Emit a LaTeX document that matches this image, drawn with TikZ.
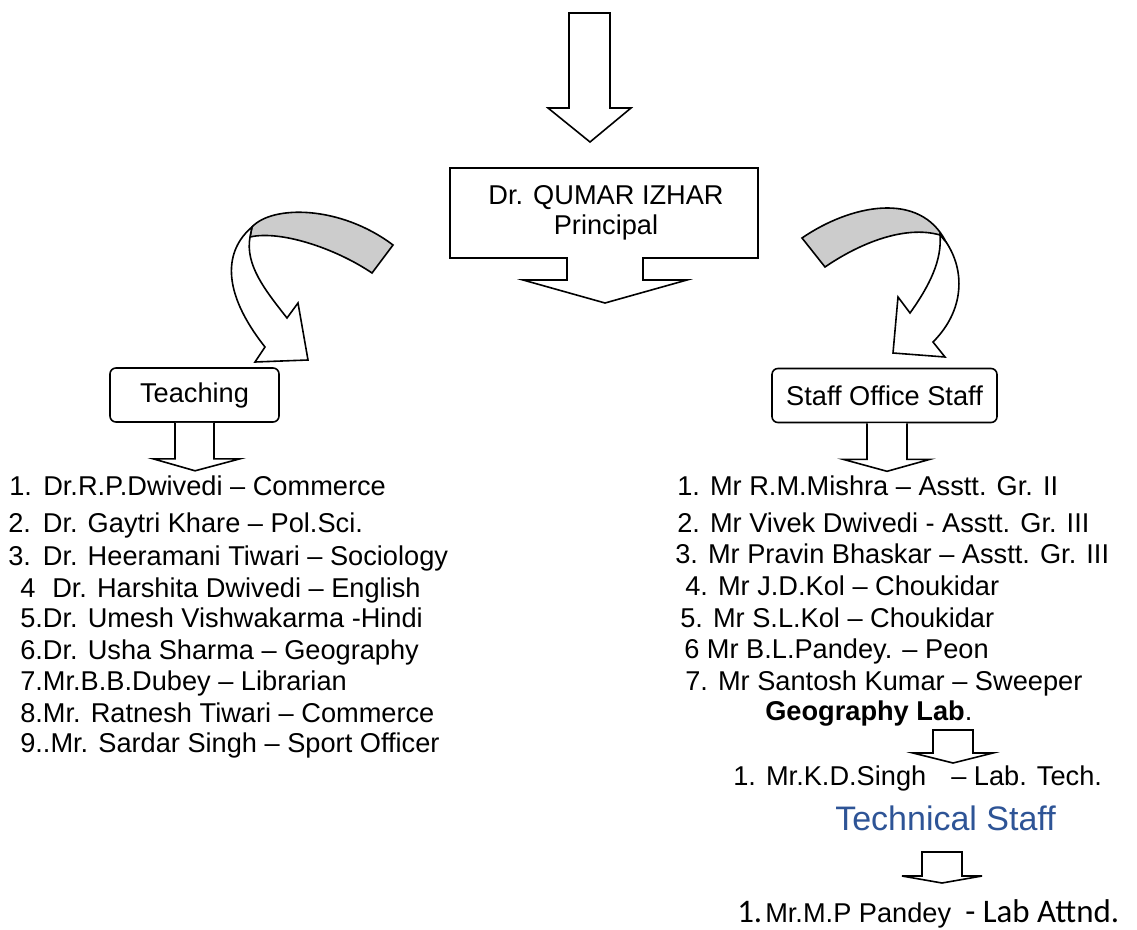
\documentclass[tikz,border=0pt]{standalone}
\usepackage{fontspec}
\setmainfont{Liberation Sans}
\newfontfamily\calfont{Carlito}
\usepackage{tikz}
\usetikzlibrary{positioning}
\definecolor{techblue}{RGB}{46,84,150}
\definecolor{foldgray}{RGB}{204,204,204}

\begin{document}
\begin{tikzpicture}[
    x=0.75pt, y=-0.75pt,
    outline/.style={draw=black, line width=1.2pt, line join=miter},
    headbox/.style={rectangle, draw=black, line width=1.2pt, rounded corners=4.5pt,
                    minimum height=40.5pt, inner sep=0pt, font=\fontsize{20.4}{24}\selectfont},
    entry/.style={anchor=base west, inner sep=0pt, font=\fontsize{20.4}{24}\selectfont}
]
    \useasboundingbox (0,0) rectangle (1137,930);

    % Arrow into the principal
    \draw[outline, fill=white] (569,13) -- (610,13) -- (610,108) -- (631,108) -- (590,142)
        -- (548,108) -- (569,108) -- cycle;

    % Principal callout
    \draw[outline, fill=white] (450,168) -- (758,168) -- (758,258) -- (643,258) -- (643,280)
        -- (687,280) -- (605,303) -- (523,280) -- (567,280) -- (567,258) -- (450,258) -- cycle;
    \node[entry, anchor=base] (pname) at (606,205) {Dr. QUMAR IZHAR};
    \node[entry, anchor=base] (prole) at (606,235) {Principal};

    % Curved arrow to the left
    \draw[outline, fill=foldgray] (252,227) .. controls (272,205) and (340,205) .. (393,245)
        -- (372,273) .. controls (335,248) and (280,230) .. (250,237) -- cycle;
    \draw[outline, fill=white] (252,227) .. controls (225,250) and (220,290) .. (265,347)
        -- (255,362) -- (308,360) -- (298,303) -- (287,318)
        .. controls (265,290) and (245,265) .. (250,237) -- cycle;

    % Curved arrow to the right
    \draw[outline, fill=foldgray] (802,238) .. controls (850,205) and (920,190) .. (946,242)
        -- (940,235) .. controls (905,225) and (860,243) .. (825,267) -- cycle;
    \draw[outline, fill=white] (946,242) .. controls (965,270) and (965,310) .. (933,342)
        -- (945,357) -- (893,353) -- (898,297) -- (910,313)
        .. controls (930,285) and (942,260) .. (940,235) -- cycle;

    % Heads
    \node[headbox, minimum width=126.75pt] (teach) at (194.5,395) {Teaching};
    \node[headbox, minimum width=168.75pt] (office) at (884.5,395.5) {Staff Office Staff};

    \draw[outline, fill=white] ([xshift=-14.6pt]teach.south) -- ++(0,36) -- ++(-22,0)
        -- ++(42,12) -- ++(45,-12) -- ++(-26,0) -- ++(0,-36);
    \draw[outline, fill=white] ([xshift=-13.1pt]office.south) -- ++(0,36) -- ++(-24,0)
        -- ++(44,12) -- ++(43,-12) -- ++(-23,0) -- ++(0,-36);

    % Teaching list
    \node[entry] (t1) at (9,495) {\makebox[25.5pt][l]{1.}Dr.R.P.Dwivedi -- Commerce};
    \node[entry] (t2) at (8,532) {\makebox[26pt][l]{2.}Dr. Gaytri Khare -- Pol.Sci.};
    \node[entry] (t3) at (8,565) {\makebox[26pt][l]{3.}Dr. Heeramani Tiwari -- Sociology};
    \node[entry] (t4) at (20,597) {\makebox[24pt][l]{4}Dr. Harshita Dwivedi -- English};
    \node[entry] (t5) at (20,627) {5.Dr. Umesh Vishwakarma -Hindi};
    \node[entry] (t6) at (20,659) {6.Dr. Usha Sharma -- Geography};
    \node[entry] (t7) at (20,690) {7.Mr.B.B.Dubey -- Librarian};
    \node[entry] (t8) at (20,722) {8.Mr. Ratnesh Tiwari -- Commerce};
    \node[entry] (t9) at (20,752) {9..Mr. Sardar Singh -- Sport Officer};

    % Office staff list
    \node[entry] (s1) at (677,495) {1. Mr R.M.Mishra -- Asstt. Gr. II};
    \node[entry] (s2) at (677,532) {2. Mr Vivek Dwivedi - Asstt. Gr. III};
    \node[entry] (s3) at (675,563) {3. Mr Pravin Bhaskar -- Asstt. Gr. III};
    \node[entry] (s4) at (685,595) {4. Mr J.D.Kol -- Choukidar};
    \node[entry] (s5) at (680,627) {5. Mr S.L.Kol -- Choukidar};
    \node[entry] (s6) at (684,658) {6 Mr B.L.Pandey. -- Peon};
    \node[entry] (s7) at (685,690) {7. Mr Santosh Kumar -- Sweeper};

    % Geography lab
    \node[entry] (geo) at (765,720) {\textbf{Geography Lab}.};
    \draw[outline, fill=white] (933,730) -- (973,730) -- (973,753) -- (993,753) -- (953,763)
        -- (913,753) -- (933,753) -- cycle;
    \node[entry] (k1) at (733,785) {1. Mr.K.D.Singh};
    \node[entry] (k1role) at (951,785) {-- Lab. Tech.};

    % Technical staff
    \node[entry, anchor=base, text=techblue, font=\fontsize{25.5}{30}\selectfont] (tech) at (945.5,830) {Technical Staff};
    \draw[outline, fill=white] (922,852) -- (962,852) -- (962,876) -- (982,876) -- (942,883)
        -- (902,876) -- (922,876) -- cycle;
    \node[entry, font=\fontsize{24.7}{29}\selectfont\calfont] (m1num) at (737,922) {1.};
    \node[entry] (m1name) at (765,922) {Mr.M.P Pandey};
    \node[entry, font=\fontsize{24.7}{29}\selectfont\calfont] (m1role) at (965,922) {- Lab Attnd.};

\end{tikzpicture}
\end{document}
